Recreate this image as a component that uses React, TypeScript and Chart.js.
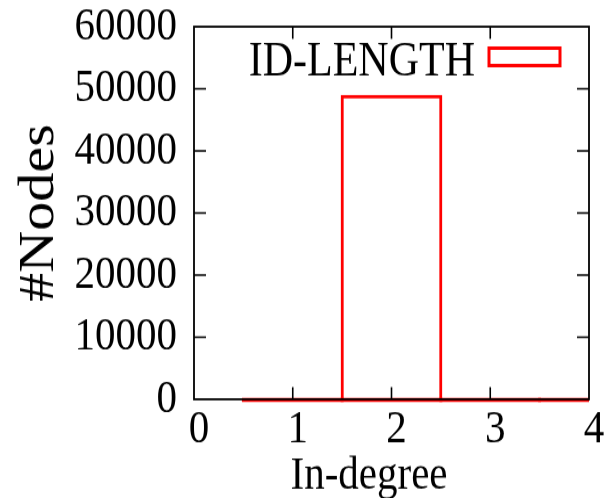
import React, { useEffect, useRef } from 'react';
import { Chart, registerables } from 'chart.js';

Chart.register(...registerables);

// ---- data ----
const inDegree = [1, 2, 3, 4];
const nodeCounts = [0, 49000, 0, 0];
const xTickValues = [0, 1, 2, 3, 4];
const yTickValues = [0, 10000, 20000, 30000, 40000, 50000, 60000];
const seriesLabel = 'ID-LENGTH';
const xTitle = 'In-degree';
const yTitle = '#Nodes';

// ---- look ----
const W = 606;
const H = 498;
const STRETCH = 1.16; // reference is stretched vertically
const IH = Math.round(H / STRETCH);
const SERIF = '"Liberation Serif", "Times New Roman", Times, serif';
const RED = '#ff0000';
const BLACK = '#000000';

const gnuplotDecor = {
  id: 'gnuplotDecor',
  afterDatasetsDraw(chart: any) {
    const { ctx, chartArea: a, scales } = chart;
    const xs = scales.x;
    const ys = scales.y;
    const meta = chart.getDatasetMeta(0);

    // baseline of each box (zero-height boxes included)
    ctx.save();
    ctx.beginPath();
    ctx.rect(a.left, 0, a.right - a.left, chart.height);
    ctx.clip();
    ctx.strokeStyle = RED;
    ctx.lineWidth = 3.5;
    meta.data.forEach((bar: any) => {
      const p = bar.getProps(['x', 'width', 'base'], true);
      ctx.beginPath();
      ctx.moveTo(p.x - p.width / 2, p.base + 0.5);
      ctx.lineTo(p.x + p.width / 2, p.base + 0.5);
      ctx.stroke();
    });
    ctx.restore();

    // frame
    ctx.save();
    ctx.strokeStyle = BLACK;
    ctx.lineWidth = 1.8;
    ctx.strokeRect(a.left, a.top, a.right - a.left, a.bottom - a.top);

    // inward ticks (mirrored)
    ctx.lineWidth = 1.6;
    ctx.beginPath();
    yTickValues.forEach((v) => {
      const py = ys.getPixelForValue(v);
      if (Math.abs(py - a.top) < 1 || Math.abs(py - a.bottom) < 1) return;
      ctx.moveTo(a.left, py);
      ctx.lineTo(a.left + 12, py);
      ctx.moveTo(a.right, py);
      ctx.lineTo(a.right - 12, py);
    });
    xTickValues.forEach((v) => {
      const px = xs.getPixelForValue(v);
      if (Math.abs(px - a.left) < 1 || Math.abs(px - a.right) < 1) return;
      ctx.moveTo(px, a.bottom);
      ctx.lineTo(px, a.bottom - 10.5);
      ctx.moveTo(px, a.top);
      ctx.lineTo(px, a.top + 10.5);
    });
    ctx.stroke();

    // key (gnuplot style: text left of sample box)
    const boxRight = a.right - 29;
    const boxLeft = a.right - 100;
    const boxTop = a.top + 18.5;
    const boxH = 15;
    ctx.strokeStyle = RED;
    ctx.lineWidth = 3;
    ctx.strokeRect(boxLeft, boxTop, boxRight - boxLeft, boxH);
    ctx.fillStyle = BLACK;
    ctx.font = `42px ${SERIF}`;
    ctx.textAlign = 'right';
    ctx.textBaseline = 'alphabetic';
    ctx.fillText(chart.data.datasets[0].label, boxLeft - 14, a.top + 41.5);

    // x axis title
    ctx.font = `41px ${SERIF}`;
    ctx.textAlign = 'center';
    ctx.fillText(xTitle, a.left + 175, 420.5);
    ctx.restore();
  },
};

export default function App() {
  const ref = useRef<HTMLCanvasElement | null>(null);

  useEffect(() => {
    document.body.style.margin = '0';
    const canvas = ref.current;
    if (!canvas) return;
    const chart = new Chart(canvas, {
      type: 'bar',
      data: {
        datasets: [
          {
            label: seriesLabel,
            data: inDegree.map((x, i) => ({ x, y: nodeCounts[i] })),
            backgroundColor: 'rgba(0,0,0,0)',
            borderColor: RED,
            borderWidth: 3,
            borderSkipped: 'start',
            barPercentage: 1.03,
            categoryPercentage: 1,
          } as any,
        ],
      },
      options: {
        responsive: false,
        animation: false,
        devicePixelRatio: 1,
        layout: { padding: { top: 23, right: 17, left: 0, bottom: 0 } },
        plugins: {
          legend: { display: false },
          tooltip: { enabled: false },
        },
        scales: {
          x: {
            type: 'linear',
            min: 0,
            max: 4,
            offset: false,
            afterBuildTicks: (s: any) => {
              s.ticks = xTickValues.map((v) => ({ value: v }));
            },
            afterFit: (s: any) => {
              s.height = 85;
              s.paddingLeft = 0;
              s.paddingRight = 0;
            },
            ticks: {
              autoSkip: false,
              maxRotation: 0,
              padding: 2,
              labelOffset: 5,
              color: BLACK,
              font: { family: SERIF, size: 41 },
              callback: (v: any) => String(v),
            },
            grid: { display: false, drawTicks: false },
            border: { display: false },
          },
          y: {
            type: 'linear',
            min: 0,
            max: 60000,
            afterBuildTicks: (s: any) => {
              s.ticks = yTickValues.map((v) => ({ value: v }));
            },
            afterFit: (s: any) => {
              s.width = 194;
              s.paddingTop = 0;
              s.paddingBottom = 0;
            },
            ticks: {
              autoSkip: false,
              padding: 17,
              color: BLACK,
              font: { family: SERIF, size: 41 },
              callback: (v: any) => String(v),
            },
            grid: { display: false, drawTicks: false },
            border: { display: false },
            title: {
              display: true,
              text: yTitle,
              color: BLACK,
              font: { family: SERIF, size: 50 },
              padding: { top: 10, bottom: 0 },
            },
          },
        },
      } as any,
      plugins: [gnuplotDecor],
    });
    return () => chart.destroy();
  }, []);

  return (
    <canvas
      ref={ref}
      width={W}
      height={IH}
      style={{ display: 'block', width: `${W}px`, height: `${H}px`, background: '#fff' }}
    />
  );
}
